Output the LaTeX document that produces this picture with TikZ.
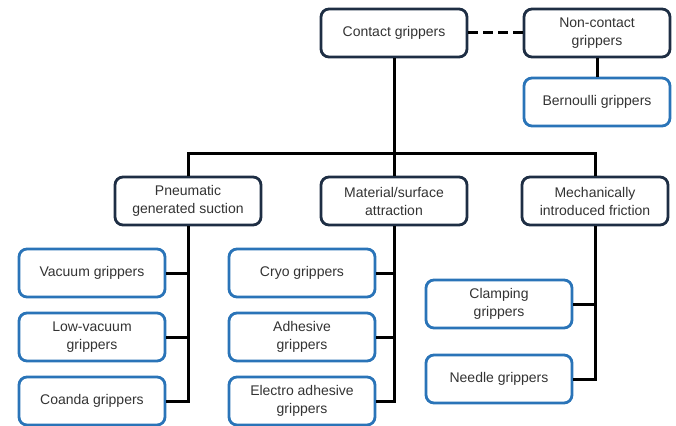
\documentclass[tikz,border=0pt]{standalone}
\usepackage{fontspec}
\setmainfont{Liberation Sans}
\definecolor{navyedge}{HTML}{1E2E44}
\definecolor{blueedge}{HTML}{2A74B8}
\definecolor{labeltext}{HTML}{333333}
\begin{document}
\begin{tikzpicture}
  [x=1pt,y=-1pt,
   box/.style=
     {draw,rounded corners=8pt,line width=2.8pt,fill=white,
      minimum width=146pt,minimum height=48pt,inner sep=2pt,
      align=center,text=labeltext,font=\fontsize{14}{18}\selectfont},
   group/.style={box,draw=navyedge},
   leaf/.style={box,draw=blueedge},
   link/.style={line width=3pt,black}
  ]
  \useasboundingbox (0,0) rectangle (676,425);
  % top level
  \node[group] (contact) at (394,33) {Contact grippers};
  \node[group] (noncontact) at (597,33) {Non-contact\\grippers};
  \node[leaf] (bernoulli) at (597,102) {Bernoulli grippers};
  % principles
  \node[group] (pneumatic) at (188,201) {Pneumatic\\generated suction};
  \node[group] (material) at (394,201) {Material/surface\\attraction};
  \node[group] (mechanical) at (595,201) {Mechanically\\introduced friction};
  % pneumatic leaves
  \node[leaf] (vacuum) at (92,273) {Vacuum grippers};
  \node[leaf] (lowvacuum) at (92,337) {Low-vacuum\\grippers};
  \node[leaf] (coanda) at (92,401) {Coanda grippers};
  % material leaves
  \node[leaf] (cryo) at (302,273) {Cryo grippers};
  \node[leaf] (adhesive) at (302,337) {Adhesive\\grippers};
  \node[leaf] (electro) at (302,401) {Electro adhesive\\grippers};
  % mechanical leaves
  \node[leaf] (clamping) at (499,304) {Clamping\\grippers};
  \node[leaf] (needle) at (499,379) {Needle grippers};

  \coordinate (bus) at (394,153);
  \draw[link,dash pattern=on 10pt off 5pt] (contact.east) -- (noncontact.west);
  \draw[link] (noncontact.south) -- (bernoulli.north);
  \draw[link] (contact.south) -- (material.north);
  \draw[link] (pneumatic.north) |- (bus) -| (mechanical.north);

  \draw[link] (pneumatic.south) |- (coanda.east);
  \draw[link] (vacuum.east) -- (vacuum.east -| pneumatic.south);
  \draw[link] (lowvacuum.east) -- (lowvacuum.east -| pneumatic.south);

  \draw[link] (material.south) |- (electro.east);
  \draw[link] (cryo.east) -- (cryo.east -| material.south);
  \draw[link] (adhesive.east) -- (adhesive.east -| material.south);

  \draw[link] (mechanical.south) |- (needle.east);
  \draw[link] (clamping.east) -- (clamping.east -| mechanical.south);
\end{tikzpicture}
\end{document}
